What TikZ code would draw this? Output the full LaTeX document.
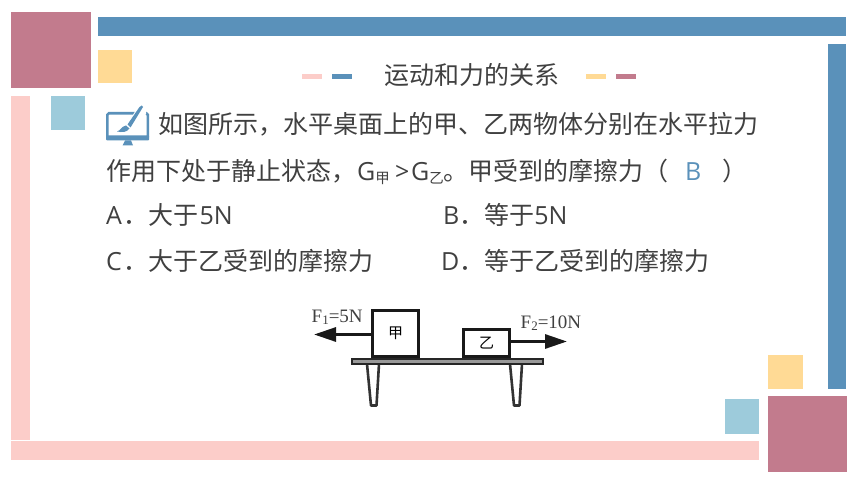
\documentclass[tikz,border=0pt]{standalone}
\usepackage{fontspec}
\setmainfont{Noto Sans CJK SC}
\newfontfamily\lat{Open Sans}
\newfontfamily\figfont{Liberation Serif}
\definecolor{rosec}{HTML}{C27B8D}
\definecolor{bluec}{HTML}{5A91BA}
\definecolor{yelc}{HTML}{FFDA95}
\definecolor{pinkc}{HTML}{FCCDC9}
\definecolor{skyc}{HTML}{9DCBDB}
\definecolor{txtc}{HTML}{404040}
\usetikzlibrary{arrows.meta}
\tikzset{
  x=1pt,y=-1pt,
  body/.style={anchor=base west,inner sep=0pt,text=txtc,font=\fontsize{25}{28}\selectfont},
  thick block/.style={draw=black!90,line width=3.2pt,fill=white,inner sep=0pt,outer sep=1.6pt},
  force/.style={line width=3pt,draw=black!90,-{Triangle[length=22pt,width=14pt]}},
  figlab/.style={inner sep=0pt,anchor=base west,text=black!75,font=\figfont\fontsize{19}{20}\selectfont},
  legline/.style={draw=black!80,line width=2.6pt,fill=white,line join=round}
}
\newcommand{\sq}[5]{\fill[#5] (#1,#2) rectangle (#3,#4);}
\newcommand{\subcjk}[1]{\raisebox{-3pt}{\rmfamily\fontsize{14.5}{15}\selectfont #1}}
\begin{document}
\begin{tikzpicture}
\useasboundingbox (0,0) rectangle (860,484);
\fill[white] (0,0) rectangle (860,484);
% frame
\sq{11}{12}{91}{88}{rosec}
\sq{98}{17}{846}{36}{bluec}
\sq{98}{50}{132}{83}{yelc}
\sq{11}{96}{30}{440}{pinkc}
\sq{51}{96}{85}{130}{skyc}
\sq{828}{44}{846}{389}{bluec}
\sq{768}{355}{803}{389}{yelc}
\sq{768}{396}{847}{472}{rosec}
\sq{725}{399}{759}{434}{skyc}
\sq{11}{441}{759}{460}{pinkc}
% title dashes
\sq{302}{74}{322}{79}{pinkc}
\sq{332}{74}{352}{79}{bluec}
\sq{586}{74}{606}{79}{yelc}
\sq{616}{74}{636}{79}{rosec}
\node[body] (title) at (384,85) {运动和力的关系};
% icon
\draw[bluec,line width=2.6pt,rounded corners=1.5pt] (107.3,113.3) rectangle (147.8,138);
\fill[bluec,rounded corners=1pt] (106,135.5) rectangle (149,140.5);
\fill[bluec] (125,140.5) -- (131,140.5) -- (133,145.5) -- (122.5,145.5) -- cycle;
\fill[white] (126,128) -- (139,104) -- (146,104) -- (146,114) -- (131,132) -- cycle;
\fill[bluec] (127.5,124.5) -- (139.5,107) .. controls (141,105) and (143,105) .. (143,107) -- (130.5,127.5) -- cycle;
\fill[bluec] (117,131.5) .. controls (121,130.5) and (121,126.5) .. (126,125.5) -- (129.5,128.5) .. controls (127,132.5) and (122,132.5) .. (117,131.5) -- cycle;
% text
\node[body] (l1) at (158,134) {如图所示，水平桌面上的甲、乙两物体分别在水平拉力};
\node[body] (l2) at (106,180.5) {作用下处于静止状态，};
\node[body] (ga) at (357,180.5) {{\lat G}\subcjk{甲}};
\node[body] (gt) at (395,180.5) {\lat >};
\node[body] (gb) at (411,180.5) {{\lat G}\subcjk{乙}};
\node[body] (l2b) at (443,180.5) {。甲受到的摩擦力（};
\node[body,text=bluec] (ans) at (685,180.5) {\lat B};
\node[body] (rp) at (722,180.5) {）};
\node[body] (a) at (106,225) {{\lat A}\hspace{1.5pt}．大于\hspace{1pt}{\lat 5N}};
\node[body] (b) at (443,225) {{\lat B}．等于{\lat 5N}};
\node[body] (c) at (106,270) {{\lat C}\hspace{1.5pt}．大于乙受到的摩擦力};
\node[body] (d) at (441,270) {{\lat D}．等于乙受到的摩擦力};
% figure
\draw[legline] (367,364) -- (371,405.5) -- (376.5,405.5) -- (379,364);
\draw[legline] (510,364) -- (514,405.5) -- (519.5,405.5) -- (522,364);
\draw[draw=black!85,line width=1.6pt,fill=black!40] (351.8,358.8) rectangle (543,364);
\node[thick block,minimum width=46pt,minimum height=46pt,font=\fontsize{15}{16}\selectfont] (jia) at (395.5,333.5) {甲};
\node[thick block,minimum width=46pt,minimum height=27pt,font=\fontsize{15}{16}\selectfont] (yi) at (486.5,343) {乙};
\coordinate (lt) at (314,334.5);
\coordinate (rt) at (567,341.5);
\draw[force] (jia.west |- lt) -- (lt);
\draw[force] (yi.east |- rt) -- (rt);
\node[figlab] (f1) at (311.5,322) {F\raisebox{-2pt}{\fontsize{13}{14}\selectfont 1}=5N};
\node[figlab] (f2) at (520.5,328) {F\raisebox{-2pt}{\fontsize{13}{14}\selectfont 2}=10N};
\end{tikzpicture}
\end{document}
